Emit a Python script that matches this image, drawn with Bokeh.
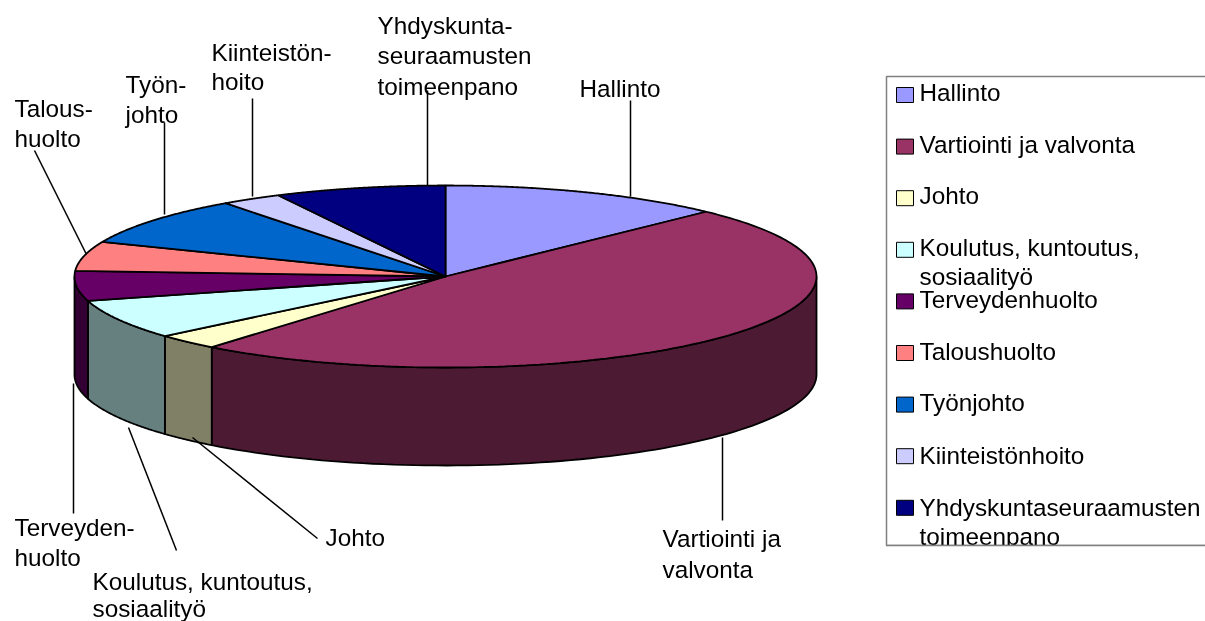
import numpy as np
from bokeh.plotting import figure
from bokeh.models import Range1d
from bokeh.embed import file_html
from bokeh.resources import INLINE
from bokeh.core.properties import value

# --- data -------------------------------------------------------------
categories = ["Hallinto", "Vartiointi ja valvonta", "Johto",
              "Koulutus, kuntoutus, sosiaalityö", "Terveydenhuolto",
              "Taloushuolto", "Työnjohto", "Kiinteistönhoito",
              "Yhdyskuntaseuraamusten toimeenpano"]
shares = [12.4, 48.45, 2.8, 7.05, 5.3, 5.2, 8.7, 2.65, 7.45]
top_colors = ["#9999FF", "#993366", "#FFFFCC", "#CCFFFF", "#660066",
              "#FF8080", "#0066CC", "#CCCCFF", "#000080"]
side_colors = ["#4D4D80", "#4D1A33", "#808066", "#668080", "#330033",
               "#804040", "#003366", "#666680", "#000040"]
legend_lines = [["Hallinto"], ["Vartiointi ja valvonta"], ["Johto"],
                ["Koulutus, kuntoutus,", "sosiaalityö"], ["Terveydenhuolto"],
                ["Taloushuolto"], ["Työnjohto"], ["Kiinteistönhoito"],
                ["Yhdyskuntaseuraamusten", "toimeenpano"]]

# --- layout (page pixels) ---------------------------------------------
W, H = 1205, 621
CX, CY, RX, RY, DEPTH = 445, 276, 371, 91, 98
FONT = value("Liberation Sans")
FS = value("24.3px")
INK = "#000000"
TEXT_DY = -8.5

data_labels = [
    (579, [96], ["Hallinto"]),
    (662, [546, 577], ["Vartiointi ja", "valvonta"]),
    (325, [545], ["Johto"]),
    (92, [589, 616], ["Koulutus, kuntoutus,", "sosiaalityö"]),
    (14, [535, 565], ["Terveyden-", "huolto"]),
    (14, [116, 146], ["Talous-", "huolto"]),
    (125, [92, 122], ["Työn-", "johto"]),
    (211, [60, 89], ["Kiinteistön-", "hoito"]),
    (377, [33, 63, 94], ["Yhdyskunta-", "seuraamusten", "toimeenpano"]),
]
leaders = [((630, 630), (100, 196)), ((722, 722), (437, 520)),
           ((192, 317), (437, 538)), ((128, 176), (427, 550)),
           ((73, 73), (383, 513)), ((34, 86), (150, 254)),
           ((164, 164), (122, 214)), ((252, 252), (98, 196)),
           ((427, 427), (90, 185))]
LEG_L, LEG_T, LEG_B = 886, 76, 545
SW_X0, SW_X1, SW_H = 896, 913, 15
SW_Y0, SW_STEP = 94.5, 51.6
LEG_TX = 919
leg_base = [[100], [152], [203], [255, 284], [307], [359], [410.5], [463], [515, 544]]

p = figure(width=W, height=H, output_backend="svg", toolbar_location=None,
           x_range=Range1d(0, W), y_range=Range1d(H, 0), min_border=0,
           outline_line_color=None, background_fill_color="white",
           border_fill_color="white")
p.xaxis.visible = False
p.yaxis.visible = False
p.grid.visible = False
p.styles = {"position": "fixed", "left": "0px", "top": "0px"}


def ell(t):
    return CX + RX * np.sin(t), CY - RY * np.cos(t)


edges = np.radians(np.concatenate([[0], np.cumsum(shares)]) * 3.6)

# side wall: only the front half of the disc is visible
wx, wy, wc = [], [], []
for a, b, c in zip(edges[:-1], edges[1:], side_colors):
    lo, hi = max(a, np.pi / 2), min(b, 3 * np.pi / 2)
    if hi <= lo:
        continue
    t = np.linspace(lo, hi, 80)
    x, y = ell(t)
    wx.append(np.concatenate([x, x[::-1]]))
    wy.append(np.concatenate([y, y[::-1] + DEPTH]))
    wc.append(c)
p.patches(wx, wy, fill_color=wc, line_color=INK, line_width=1.8)

# top face
tx, ty = [], []
for a, b in zip(edges[:-1], edges[1:]):
    t = np.linspace(a, b, 160)
    x, y = ell(t)
    tx.append(np.concatenate([[CX], x]))
    ty.append(np.concatenate([[CY], y]))
p.patches(tx, ty, fill_color=top_colors, line_color=INK, line_width=1.8)

# data labels
for x, bases, lines in data_labels:
    p.text([x] * len(lines), [b + TEXT_DY for b in bases], text=lines, text_font=FONT,
           text_font_size=FS, text_color=INK, text_baseline="alphabetic", text_align="left")

# leader lines
for xs, ys in leaders:
    p.line(list(xs), list(ys), line_color=INK, line_width=1.5)

# legend
p.quad(left=[LEG_L], right=[W + 5], top=[LEG_T], bottom=[LEG_B],
       fill_color="white", line_color="#808080", line_width=1.5, level="underlay")
for i, (lines, bases, c) in enumerate(zip(legend_lines, leg_base, top_colors)):
    yc = SW_Y0 + SW_STEP * i
    p.quad(left=[SW_X0], right=[SW_X1], top=[yc - SW_H / 2], bottom=[yc + SW_H / 2],
           fill_color=c, line_color=INK, line_width=1)
    p.text([LEG_TX] * len(lines), [b + TEXT_DY for b in bases], text=lines, text_font=FONT,
           text_font_size=FS, text_color=INK, text_baseline="alphabetic", text_align="left")
# the legend box cuts its last line off at its lower edge
p.quad(left=[LEG_L + 1], right=[W + 5], top=[LEG_B], bottom=[LEG_B + 12],
       fill_color="white", line_color=None)
p.line([LEG_L, W + 5], [LEG_B, LEG_B], line_color="#808080", line_width=1.5)

open("out.html", "w").write(file_html(p, INLINE))
